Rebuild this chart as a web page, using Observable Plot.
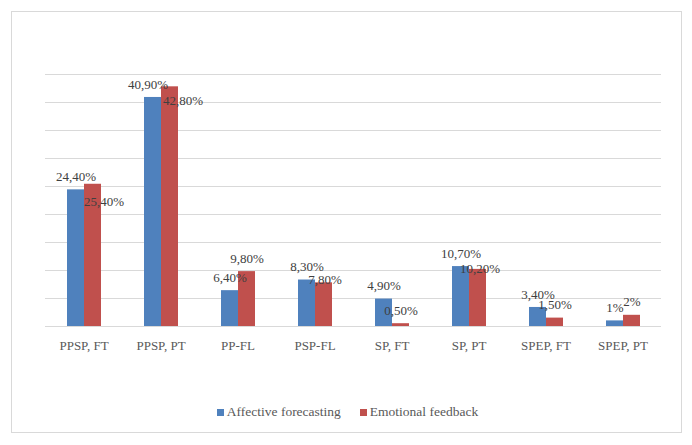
<!DOCTYPE html>
<html>
<head>
<meta charset="utf-8">
<script src="https://cdn.jsdelivr.net/npm/d3@7"></script>
<script src="https://cdn.jsdelivr.net/npm/@observablehq/plot@0.6"></script>
<style>
  html, body { margin: 0; padding: 0; background: #fff; }
  #frame {
    position: absolute; left: 11px; top: 11px;
    width: 669px; height: 420px;
    border: 1px solid #D9D9D9; background: #fff;
    font-family: "Liberation Serif", serif;
  }
  #legend {
    display: flex; justify-content: center; align-items: center;
    gap: 19px; padding-top: 12px; font-size: 13.5px; color: #595959;
    line-height: 16px; padding-left: 2px;
  }
  #legend .item { display: flex; align-items: center; }
  #legend .sw { width: 7px; height: 7px; margin-right: 3px; display: inline-block; }
</style>
</head>
<body>
<div id="frame">
  <div id="chart"></div>
  <div id="legend"></div>
</div>
<script>
const categories = ["PPSP, FT", "PPSP, PT", "PP-FL", "PSP-FL", "SP, FT", "SP, PT", "SPEP, FT", "SPEP, PT"];
const seriesNames = ["Affective forecasting", "Emotional feedback"];
const affective = [24.4, 40.9, 6.4, 8.3, 4.9, 10.7, 3.4, 1.0];
const emotional = [25.4, 42.8, 9.8, 7.8, 0.5, 10.2, 1.5, 2.0];
const gridTicks = [5, 10, 15, 20, 25, 30, 35, 40, 45];

const colors = ["#4F81BD", "#C0504D"];
const fmt = v => Number.isInteger(v) ? v + "%" : v.toFixed(2).replace(".", ",") + "%";

const data = [];
categories.forEach((c, i) => {
  data.push({cat: c, series: seriesNames[0], value: affective[i]});
  data.push({cat: c, series: seriesNames[1], value: emotional[i]});
});

// label nudges (pixels) mimicking the manual placement in the original
const nudge = {
  "Emotional feedback|PPSP, FT": [11, 31],
  "Emotional feedback|PPSP, PT": [13, 27],
  "Affective forecasting|PPSP, PT": [-5, 0],
  "Emotional feedback|PSP-FL": [1, 10],
  "Emotional feedback|SP, PT": [2, 12]
};

const labelMarks = data.map(d => {
  const n = nudge[d.series + "|" + d.cat] || [0, 0];
  return Plot.text([d], {
    fx: "cat", x: "series", y: "value", text: d => fmt(d.value),
    dx: n[0], dy: -13 + n[1], lineAnchor: "middle",
    fill: "#404040", fontSize: 13
  });
});

const chart = Plot.plot({
  width: 669,
  height: 380,
  marginLeft: 31,
  marginRight: 18,
  marginTop: 62,
  marginBottom: 66,
  style: {fontFamily: "Liberation Serif, serif", fontSize: "13px", background: "transparent"},
  fx: {domain: categories, padding: 0, axis: "bottom", tickSize: 0, tickPadding: 14, label: null},
  x: {domain: seriesNames, paddingInner: 0, paddingOuter: 1.153, axis: null},
  y: {domain: [0, 45], axis: null},
  color: {domain: seriesNames, range: colors},
  marks: [
    Plot.ruleY(gridTicks, {stroke: "#D9D9D9", strokeWidth: 1}),
    Plot.barY(data, {fx: "cat", x: "series", y: "value", fill: "series"}),
    Plot.ruleY([0], {stroke: "#D9D9D9", strokeWidth: 1}),
    ...labelMarks
  ]
});
chart.querySelectorAll("g[aria-label='fx-axis tick label'] text, g[aria-label='fx-axis tick label']").forEach(el => el.setAttribute("fill", "#595959"));
document.getElementById("chart").appendChild(chart);

const legend = document.getElementById("legend");
seriesNames.forEach((s, i) => {
  const item = document.createElement("div");
  item.className = "item";
  const sw = document.createElement("span");
  sw.className = "sw";
  sw.style.background = colors[i];
  item.appendChild(sw);
  item.appendChild(document.createTextNode(s));
  legend.appendChild(item);
});
</script>
</body>
</html>
